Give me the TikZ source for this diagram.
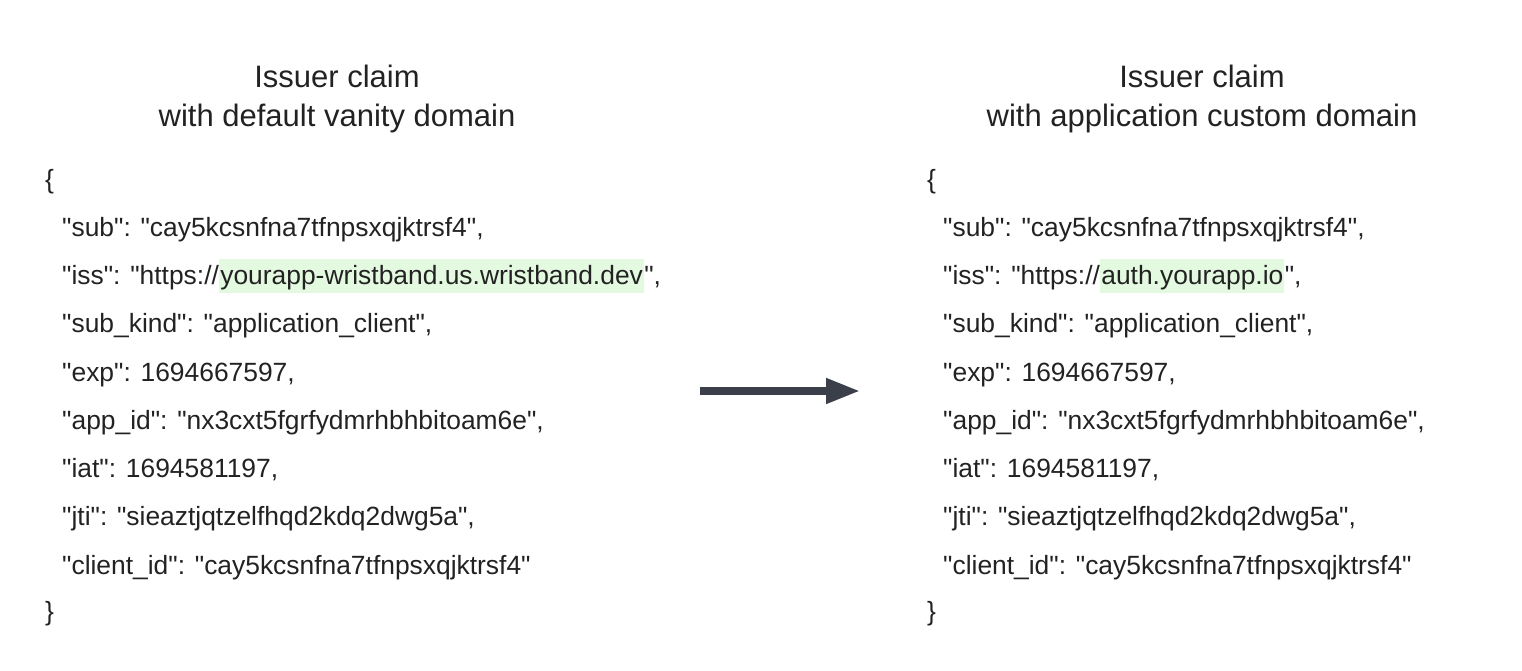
\documentclass[tikz,border=0pt]{standalone}
\usepackage{fontspec}
\setmainfont{Liberation Sans}[Ligatures=TeXOff]
\usetikzlibrary{arrows.meta}
\definecolor{txt}{HTML}{222222}
\definecolor{hl}{HTML}{E3F9E0}
\definecolor{arr}{HTML}{3A3F4A}
\begin{document}
\begin{tikzpicture}[x=1pt,y=-1pt,
  title/.style={align=center,font=\fontsize{31}{38.5}\selectfont,text=txt,inner sep=0},
  code/.style={anchor=base west,font=\fontsize{26.4}{32}\selectfont,text=txt,inner sep=0},
  hlbox/.style={code,fill=hl,inner xsep=1pt,text height=25pt,text depth=9pt}]
\useasboundingbox (0,0) rectangle (1522,670);
% Titles
\node[title] (t1) at (337,99) {Issuer claim\\with default vanity domain};
\node[title] (t2) at (1202,99) {Issuer claim\\with application custom domain};
% Left JSON
\node[code] (l0) at (45,188) {\{};
\node[code] (l1) at (62,236) {"sub": "cay5kcsnfna7tfnpsxqjktrsf4",};
\node[code] (l2a) at (62,284) {"iss": "https://};
\node[hlbox] (l2b) at (l2a.base east) {yourapp-wristband.us.wristband.dev};
\node[code] (l2c) at (l2b.base east) {",};
\node[code] (l3) at (62,332) {"sub\_kind": "application\_client",};
\node[code] (l4) at (62,381) {"exp": 1694667597,};
\node[code] (l5) at (62,429) {"app\_id": "nx3cxt5fgrfydmrhbhbitoam6e",};
\node[code] (l6) at (62,477) {"iat": 1694581197,};
\node[code] (l7) at (62,525) {"jti": "sieaztjqtzelfhqd2kdq2dwg5a",};
\node[code] (l8) at (62,574) {"client\_id": "cay5kcsnfna7tfnpsxqjktrsf4"};
\node[code] (l9) at (45,620) {\}};
% Right JSON
\node[code] (r0) at (927,188) {\{};
\node[code] (r1) at (943,236) {"sub": "cay5kcsnfna7tfnpsxqjktrsf4",};
\node[code] (r2a) at (943,284) {"iss": "https://};
\node[hlbox] (r2b) at (r2a.base east) {auth.yourapp.io};
\node[code] (r2c) at (r2b.base east) {",};
\node[code] (r3) at (943,332) {"sub\_kind": "application\_client",};
\node[code] (r4) at (943,381) {"exp": 1694667597,};
\node[code] (r5) at (943,429) {"app\_id": "nx3cxt5fgrfydmrhbhbitoam6e",};
\node[code] (r6) at (943,477) {"iat": 1694581197,};
\node[code] (r7) at (943,525) {"jti": "sieaztjqtzelfhqd2kdq2dwg5a",};
\node[code] (r8) at (943,574) {"client\_id": "cay5kcsnfna7tfnpsxqjktrsf4"};
\node[code] (r9) at (927,620) {\}};
% Arrow
\coordinate (as) at (700,391);
\coordinate (ae) at (860,391);
\draw[arr,line width=7.5pt,-{Triangle[length=34pt,width=24pt]}] (as) -- (ae);
\end{tikzpicture}
\end{document}
